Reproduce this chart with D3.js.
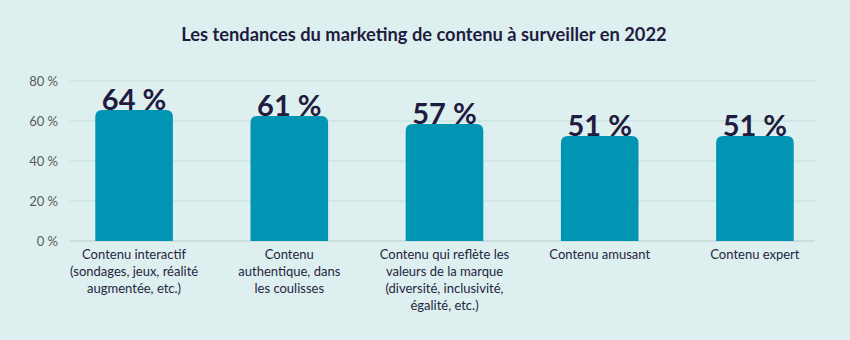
<!DOCTYPE html>
<html lang="fr">
<head>
<meta charset="utf-8">
<script src="https://cdn.jsdelivr.net/npm/d3@7"></script>
<style>
  html, body { margin: 0; padding: 0; background: #ddf0ef; }
  svg { display: block; font-family: Lato, "Open Sans", sans-serif; }
</style>
</head>
<body>
<svg id="chart" width="850" height="340"></svg>
<script>
// Content marketing trends, share of marketers (%)
const categories = [
  ["Contenu interactif", "(sondages, jeux, réalité", "augmentée, etc.)"],
  ["Contenu", "authentique, dans", "les coulisses"],
  ["Contenu qui reflète les", "valeurs de la marque", "(diversité, inclusivité,", "égalité, etc.)"],
  ["Contenu amusant"],
  ["Contenu expert"]
];
const values = [64, 61, 57, 51, 51];
const yTicks = [0, 20, 40, 60, 80];
const title = "Les tendances du marketing de contenu à surveiller en 2022";

const svg = d3.select("#chart");
const ink = "#1f1c3f";

svg.append("rect").attr("width", 850).attr("height", 340).attr("fill", "#ddf0ef");

svg.append("text")
  .attr("x", 424).attr("y", 41)
  .attr("text-anchor", "middle")
  .attr("font-size", 18.3).attr("font-weight", 700)
  .attr("fill", ink)
  .text(title);

const x = d3.scaleBand()
  .domain(d3.range(values.length))
  .range([72, 817])
  .paddingInner(0.5)
  .paddingOuter(0.15);

const y = d3.scaleLinear().domain([0, 80]).range([241, 81]);

// gridlines + y tick labels
const grid = svg.append("g");
grid.selectAll("line")
  .data(yTicks)
  .join("line")
  .attr("x1", 70).attr("x2", 815)
  .attr("y1", d => y(d)).attr("y2", d => y(d))
  .attr("stroke", d => d === 0 ? "#c9dedd" : "#d0e7e5")
  .attr("stroke-width", 2);

grid.selectAll("text")
  .data(yTicks)
  .join("text")
  .attr("x", 58).attr("y", d => y(d) + 4.5)
  .attr("text-anchor", "end")
  .attr("font-size", 13)
  .attr("fill", "#5a5a5a")
  .text(d => d + " %");

// value labels first, bars drawn over their lower edge
svg.append("g").selectAll("text")
  .data(values)
  .join("text")
  .attr("x", (d, i) => x(i) + x.bandwidth() / 2)
  .attr("y", d => y(d) - 3.5)
  .attr("text-anchor", "middle")
  .attr("font-size", 29).attr("font-weight", 700)
  .attr("fill", ink)
  .text(d => d + " %");

const r = 7;
function barPath(x0, w, top, bottom) {
  return `M${x0},${bottom}V${top + r}Q${x0},${top} ${x0 + r},${top}` +
    `H${x0 + w - r}Q${x0 + w},${top} ${x0 + w},${top + r}V${bottom}Z`;
}

svg.append("g").selectAll("path")
  .data(values)
  .join("path")
  .attr("d", (d, i) => barPath(x(i), x.bandwidth(), y(d) - 3, y(0)))
  .attr("fill", "#0095b3");

// category labels, multi-line
const labels = svg.append("g").selectAll("text")
  .data(categories)
  .join("text")
  .attr("x", (d, i) => x(i) + x.bandwidth() / 2)
  .attr("y", 259)
  .attr("text-anchor", "middle")
  .attr("font-size", 13)
  .attr("fill", "#26243f");

labels.selectAll("tspan")
  .data(d => d)
  .join("tspan")
  .attr("x", function () { return this.parentNode.getAttribute("x"); })
  .attr("dy", (d, i) => i === 0 ? 0 : 17)
  .text(d => d);
</script>
</body>
</html>
